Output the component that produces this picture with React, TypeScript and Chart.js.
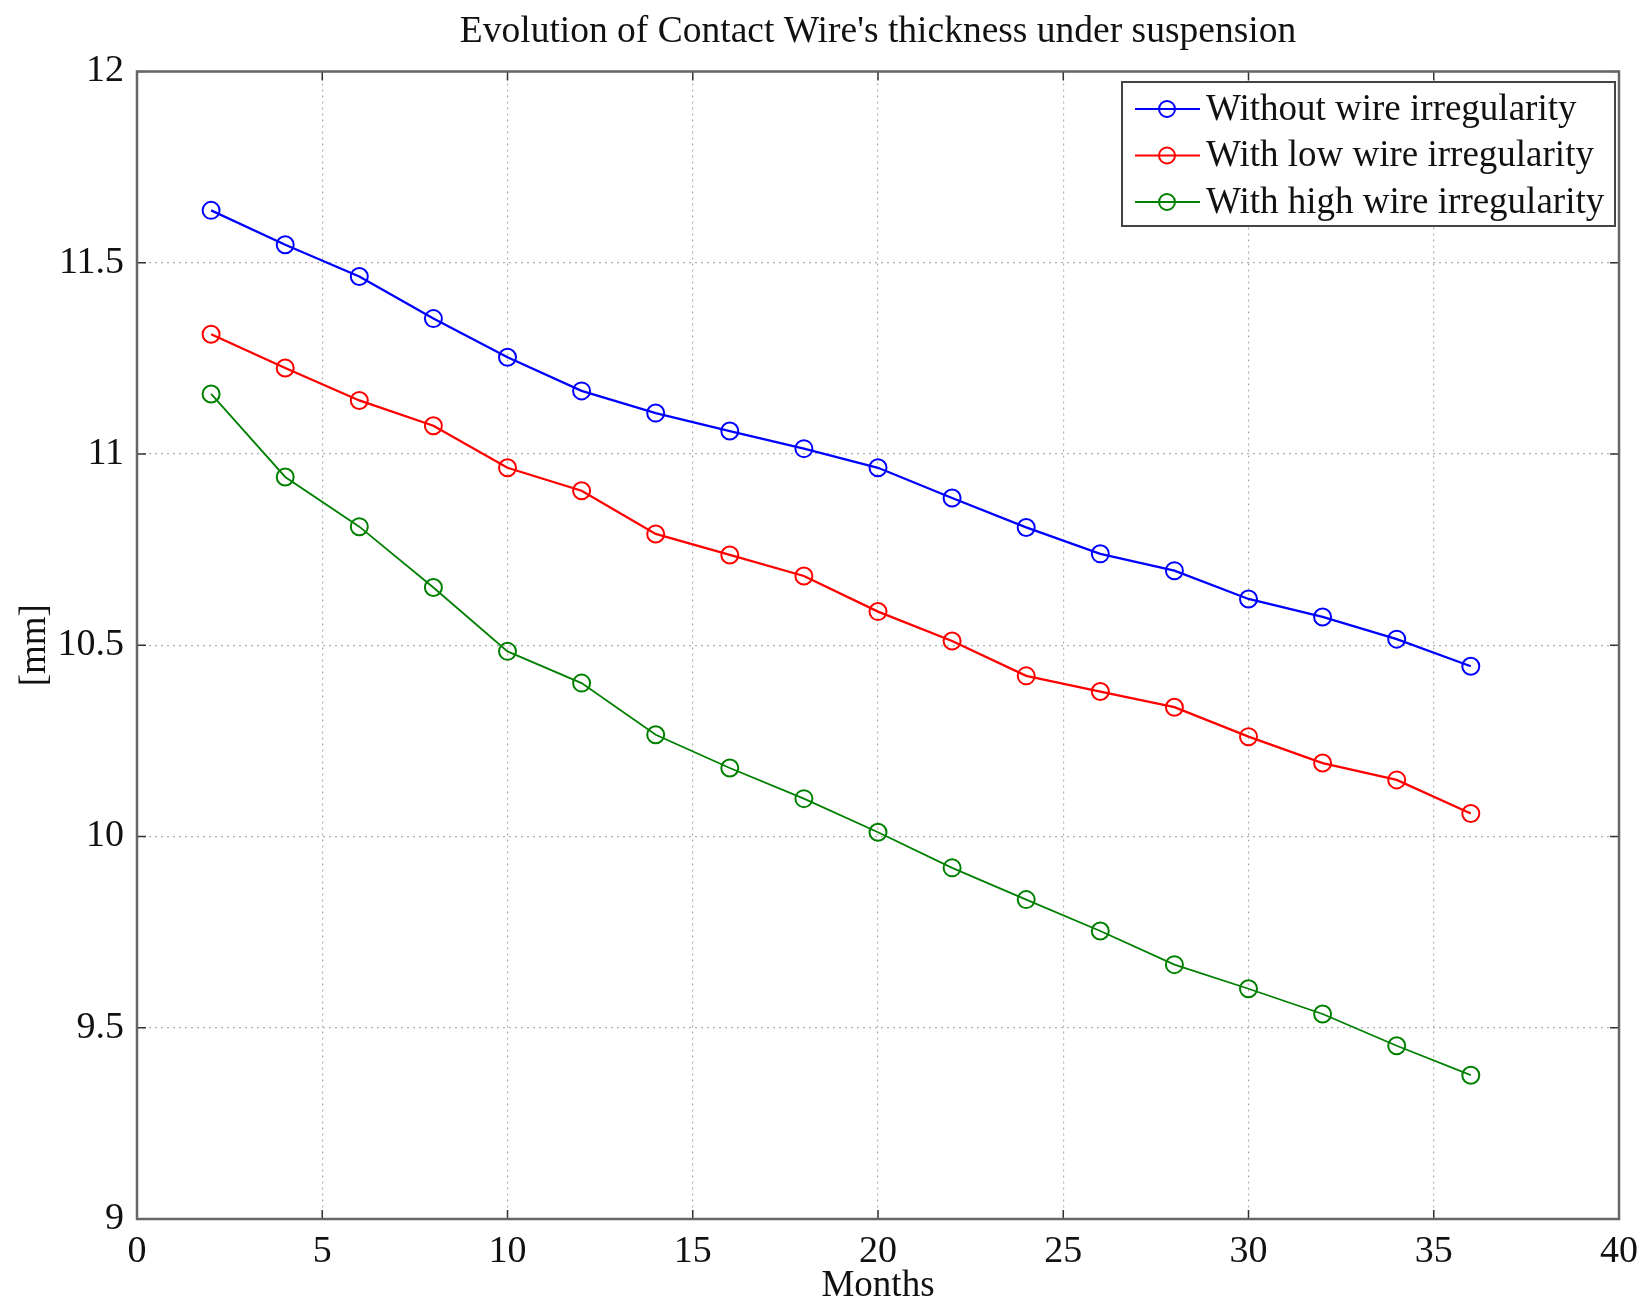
import React, { useEffect, useRef } from "react";
import { Chart, registerables } from "chart.js";

Chart.register(...registerables);

const months = [2, 4, 6, 8, 10, 12, 14, 16, 18, 20, 22, 24, 26, 28, 30, 32, 34, 36];
const withoutIrregularity = [11.637, 11.547, 11.464, 11.354, 11.253, 11.165, 11.107, 11.06, 11.014, 10.964, 10.885, 10.808, 10.739, 10.695, 10.621, 10.574, 10.516, 10.445];
const lowIrregularity = [11.313, 11.225, 11.14, 11.074, 10.964, 10.904, 10.791, 10.736, 10.681, 10.588, 10.511, 10.42, 10.379, 10.338, 10.261, 10.192, 10.148, 10.06];
const highIrregularity = [11.157, 10.94, 10.81, 10.651, 10.484, 10.401, 10.266, 10.179, 10.099, 10.011, 9.918, 9.835, 9.753, 9.665, 9.602, 9.536, 9.453, 9.376];
const seriesLabels = ["Without wire irregularity", "With low wire irregularity", "With high wire irregularity"];
const seriesColors = ["#0000ff", "#ff0000", "#008000"];
const xTicks = [0, 5, 10, 15, 20, 25, 30, 35, 40];
const yTicks = [9, 9.5, 10, 10.5, 11, 11.5, 12];

const FONT = "'Liberation Serif', 'Times New Roman', serif";

const boxPlugin = {
  id: "matlabBox",
  afterDatasetsDraw(chart: any) {
    const { ctx, chartArea: a, scales } = chart;
    ctx.save();
    // inner tick marks
    ctx.strokeStyle = "#333";
    ctx.lineWidth = 1.5;
    ctx.setLineDash([]);
    const tl = 9;
    xTicks.forEach((v) => {
      const px = scales.x.getPixelForValue(v);
      ctx.beginPath();
      ctx.moveTo(px, a.bottom);
      ctx.lineTo(px, a.bottom - tl);
      ctx.moveTo(px, a.top);
      ctx.lineTo(px, a.top + tl);
      ctx.stroke();
    });
    yTicks.forEach((v) => {
      const py = scales.y.getPixelForValue(v);
      ctx.beginPath();
      ctx.moveTo(a.left, py);
      ctx.lineTo(a.left + tl, py);
      ctx.moveTo(a.right, py);
      ctx.lineTo(a.right - tl, py);
      ctx.stroke();
    });
    // box
    ctx.strokeStyle = "#666";
    ctx.lineWidth = 2.5;
    ctx.strokeRect(a.left, a.top, a.right - a.left, a.bottom - a.top);

    // legend
    const lx = 1122, ly = 82, lw = 493, lh = 144;
    ctx.fillStyle = "#fff";
    ctx.fillRect(lx, ly, lw, lh);
    ctx.strokeStyle = "#444";
    ctx.lineWidth = 2;
    ctx.strokeRect(lx, ly, lw, lh);
    ctx.font = `37px ${FONT}`;
    ctx.textBaseline = "middle";
    ctx.textAlign = "left";
    chart.data.datasets.forEach((ds: any, i: number) => {
      const y = 109 + i * 46.5;
      ctx.strokeStyle = ds.borderColor;
      ctx.lineWidth = 2;
      ctx.beginPath();
      ctx.moveTo(1135, y);
      ctx.lineTo(1200, y);
      ctx.stroke();
      ctx.beginPath();
      ctx.arc(1167, y, 8, 0, Math.PI * 2);
      ctx.stroke();
      ctx.fillStyle = "#111";
      ctx.fillText(ds.label, 1206, y + 1);
    });
    ctx.restore();
  },
};

export default function App() {
  const ref = useRef<HTMLCanvasElement>(null);
  useEffect(() => {
    const datasets = [withoutIrregularity, lowIrregularity, highIrregularity].map((vals, i) => ({
      label: seriesLabels[i],
      data: months.map((m, j) => ({ x: m, y: vals[j] })),
      borderColor: seriesColors[i],
      backgroundColor: "transparent",
      borderWidth: i === 2 ? 1.8 : 2.3,
      pointRadius: 8.5,
      pointBorderWidth: 2,
      pointBackgroundColor: "transparent",
      pointBorderColor: seriesColors[i],
      pointStyle: "circle",
      tension: 0,
    }));
    const chart = new Chart(ref.current!, {
      type: "line",
      data: { datasets },
      options: {
        responsive: false,
        animation: false,
        devicePixelRatio: 1,
        layout: { padding: { left: 0, right: 24, top: 0, bottom: 0 } },
        plugins: {
          legend: { display: false },
          tooltip: { enabled: false },
          title: {
            display: true,
            fullSize: false,
            text: "Evolution of Contact Wire's thickness under suspension",
            color: "#111",
            font: { family: FONT, size: 37.5, weight: "normal", lineHeight: 1.2 },
            padding: { top: 10, bottom: 16.5 },
          },
        },
        scales: {
          x: {
            type: "linear",
            min: 0,
            max: 40,
            afterBuildTicks: (s: any) => {
              s.ticks = xTicks.map((v) => ({ value: v }));
            },
            afterFit: (s: any) => {
              s.height = 96;
            },
            ticks: {
              color: "#111",
              font: { family: FONT, size: 38, lineHeight: 1.2 },
              padding: 10,
              maxRotation: 0,
            },
            grid: { color: "#b0b0b0", lineWidth: 1.2, drawTicks: false, tickLength: 0 },
            border: { display: false, dash: [2, 4] },
            title: {
              display: true,
              text: "Months",
              color: "#111",
              font: { family: FONT, size: 37, lineHeight: 1.2 },
              padding: { top: 0, bottom: 7 },
            },
          },
          y: {
            type: "linear",
            min: 9,
            max: 12,
            afterBuildTicks: (s: any) => {
              s.ticks = yTicks.map((v) => ({ value: v }));
            },
            afterFit: (s: any) => {
              s.width = 137;
            },
            ticks: {
              color: "#111",
              font: { family: FONT, size: 38, lineHeight: 1.2 },
              padding: 13,
              callback: (v: any) => String(v),
            },
            grid: { color: "#b0b0b0", lineWidth: 1.2, drawTicks: false, tickLength: 0 },
            border: { display: false, dash: [2, 4] },
            title: {
              display: true,
              text: "[mm]",
              color: "#111",
              font: { family: FONT, size: 37, lineHeight: 1.2 },
              padding: { top: 13, bottom: 0 },
            },
          },
        },
      },
      plugins: [boxPlugin],
    } as any);
    return () => chart.destroy();
  }, []);
  return (
    <div style={{ position: "absolute", left: 0, top: 0, width: 1648, height: 1315, background: "#fff" }}>
      <canvas ref={ref} width={1648} height={1315} style={{ width: 1648, height: 1315, display: "block" }} />
    </div>
  );
}
